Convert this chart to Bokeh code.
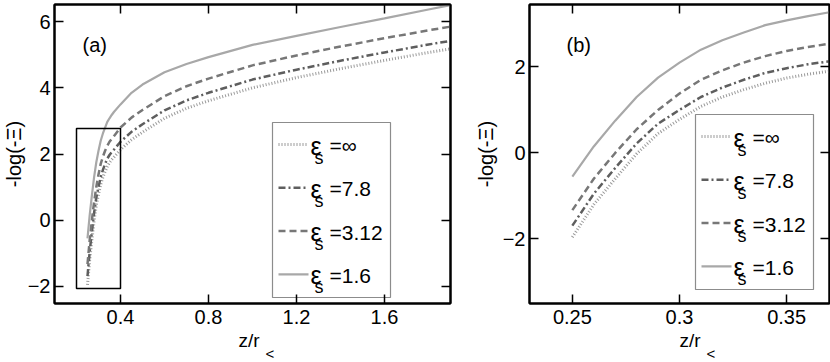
from bokeh.plotting import figure
from bokeh.models import Range1d, LinearAxis, FixedTicker, Label, Title
from bokeh.layouts import row
from bokeh.embed import file_html
from bokeh.resources import INLINE

FONT = "Liberation Sans"

# ---------------- data ----------------
z = [0.25, 0.26, 0.27, 0.28, 0.29, 0.30, 0.31, 0.32, 0.33, 0.34, 0.35, 0.36, 0.37,
     0.40, 0.45, 0.50, 0.60, 0.70, 0.80, 1.0, 1.2, 1.4, 1.6, 1.8, 1.9]
eps_inf = [-1.96, -1.2, -0.6, -0.02, 0.45, 0.78, 1.08, 1.3, 1.47, 1.62, 1.74, 1.83, 1.9,
           2.13, 2.43, 2.66, 3.08, 3.38, 3.61, 4.0, 4.31, 4.58, 4.83, 5.07, 5.18]
eps_78 = [-1.69, -0.95, -0.35, 0.22, 0.68, 1.0, 1.3, 1.52, 1.7, 1.86, 1.97, 2.06, 2.13,
          2.37, 2.67, 2.9, 3.32, 3.62, 3.85, 4.25, 4.55, 4.82, 5.07, 5.31, 5.42]
eps_312 = [-1.33, -0.6, 0.0, 0.55, 1.0, 1.38, 1.7, 1.92, 2.1, 2.25, 2.37, 2.46, 2.54,
           2.8, 3.1, 3.33, 3.75, 4.05, 4.28, 4.68, 4.98, 5.25, 5.5, 5.74, 5.85]
eps_16 = [-0.55, 0.15, 0.75, 1.3, 1.75, 2.1, 2.4, 2.62, 2.8, 2.97, 3.08, 3.18, 3.27,
          3.5, 3.85, 4.1, 4.47, 4.72, 4.93, 5.3, 5.57, 5.84, 6.1, 6.37, 6.5]

series_values = ["∞", "7.8", "3.12", "1.6"]
series_data = [eps_inf, eps_78, eps_312, eps_16]

# zoom window drawn in panel (a)
zoom_box = [0.2, 0.4, -2.07, 2.77]  # left, right, bottom, top

a_xticks = [0.4, 0.8, 1.2, 1.6]
a_xlabels = ["0.4", "0.8", "1.2", "1.6"]
a_yticks = [-2, 0, 2, 4, 6]
a_ylabels = ["−2", "0", "2", "4", "6"]
b_xticks = [0.25, 0.3, 0.35]
b_xlabels = ["0.25", "0.3", "0.35"]
b_yticks = [-2, 0, 2]
b_ylabels = ["−2", "0", "2"]

# ---------------- styles ----------------
STYLES = [
    dict(line_color="#9a9a9a", line_width=3, line_dash="1 2"),
    dict(line_color="#5e5e5e", line_width=2.5, line_dash="7 3 2 3"),
    dict(line_color="#777777", line_width=2.5, line_dash="7 4"),
    dict(line_color="#a8a8a8", line_width=2.2, line_dash="solid"),
]


def style_axis(ax, ticks, labels, show):
    ax.ticker = FixedTicker(ticks=ticks)
    ax.major_tick_in = 9
    ax.major_tick_out = 0
    ax.minor_tick_in = 0
    ax.minor_tick_out = 0
    ax.major_tick_line_color = "black"
    ax.major_tick_line_width = 1.5
    ax.axis_line_color = "black"
    ax.axis_line_width = 2
    if show:
        ax.major_label_overrides = {t: l for t, l in zip(ticks, labels)}
        ax.major_label_text_font = FONT
        ax.major_label_text_font_size = "20px"
        ax.major_label_text_color = "black"
    else:
        ax.major_label_overrides = {t: "" for t in ticks}
        ax.major_label_text_font_size = "1px"
        ax.major_label_standoff = 0


def make_title(text, size, align, offset, standoff):
    t = Title(text=text, align=align, offset=offset, text_font=FONT, text_font_size=size,
              text_font_style="normal", text_color="black")
    try:
        t.standoff = standoff
    except Exception:
        t.standoff = 0
    return t


def make_panel(xr, yr, fw, fh, bl, br, xt, xl, yt, yl):
    p = figure(x_range=Range1d(*xr), y_range=Range1d(*yr), frame_width=fw, frame_height=fh,
               output_backend="svg", toolbar_location=None,
               min_border_left=bl, min_border_right=br, min_border_top=4, min_border_bottom=58)
    p.grid.visible = False
    p.outline_line_color = "black"
    p.outline_line_width = 2
    p.background_fill_color = "white"
    p.border_fill_color = "white"
    style_axis(p.xaxis[0], xt, xl, True)
    p.xaxis[0].major_label_standoff = 6
    style_axis(p.yaxis[0], yt, yl, True)
    p.yaxis[0].major_label_standoff = 4
    top = LinearAxis()
    style_axis(top, xt, xl, False)
    p.add_layout(top, "above")
    right = LinearAxis()
    style_axis(right, yt, yl, False)
    p.add_layout(right, "right")

    def sx(px):
        return xr[0] + px / fw * (xr[1] - xr[0])

    def sy(py):
        return yr[1] - py / fh * (yr[1] - yr[0])

    for ys, st in zip(series_data, STYLES):
        p.line(z, ys, **st)
    return p, sx, sy


def add_text(p, x, y, text, size, **kw):
    p.add_layout(Label(x=x, y=y, text=text, text_font=FONT, text_font_size=size,
                       text_color="black", **kw))


def add_legend(p, sx, sy, L, T):
    W, H = 118, 175
    p.quad(left=[sx(L)], right=[sx(L + W)], top=[sy(T)], bottom=[sy(T + H)],
           fill_color="white", line_color="#8c8c8c", line_width=1.2)
    for i, (val, st) in enumerate(zip(series_values, STYLES)):
        ry = T + 22 + 43.3 * i
        p.line([sx(L + 6), sx(L + 36)], [sy(ry), sy(ry)], **st)
        add_text(p, sx(L + 38), sy(ry + 1), "ε", "25px", text_baseline="alphabetic")
        add_text(p, sx(L + 42), sy(ry + 13), "s", "18px", text_baseline="alphabetic")
        add_text(p, sx(L + 57), sy(ry + 1), "=" + val, "21px", text_baseline="alphabetic")


def add_axis_titles(p, ylab_offset, ylab_standoff, xlab_offset):
    p.add_layout(make_title("-log(-Ξ)", "20px", "center", ylab_offset, ylab_standoff), "left")
    p.add_layout(make_title("z/r", "19px", "left", xlab_offset, 3), "below")
    p.add_layout(make_title("<", "15px", "left", xlab_offset + 27, -19), "below")


# ---------------- panel (a) ----------------
FWA, FH = 396, 299
pa, sxa, sya = make_panel((0.1, 1.9), (-2.52, 6.52), FWA, FH, 51, 13,
                          a_xticks, a_xlabels, a_yticks, a_ylabels)
pa.quad(left=[zoom_box[0]], right=[zoom_box[1]], bottom=[zoom_box[2]], top=[zoom_box[3]],
        fill_color=None, line_color="black", line_width=1.5)
add_legend(pa, sxa, sya, FWA - 60 - 118, FH - 6 - 175)
add_text(pa, sxa(28), sya(40), "(a)", "20px", text_baseline="middle")
add_axis_titles(pa, 10, 0, 184)

# ---------------- panel (b) ----------------
FWB = 300
pb, sxb, syb = make_panel((0.23, 0.37), (-3.5, 3.45), FWB, FH, 66, 4,
                          b_xticks, b_xlabels, b_yticks, b_ylabels)
add_legend(pb, sxb, syb, FWB - 16 - 118, FH - 14 - 175)
add_text(pb, sxb(37), syb(40), "(b)", "20px", text_baseline="middle")
add_axis_titles(pb, 0, 6, 150)

layout = row(pa, pb)
open("out.html", "w").write(file_html(layout, INLINE))
